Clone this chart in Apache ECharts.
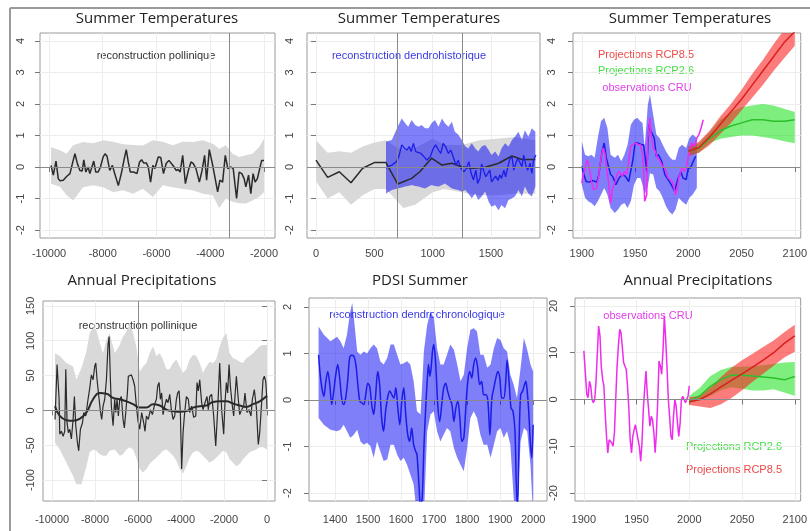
<!DOCTYPE html>
<html>
<head>
<meta charset="utf-8">
<script src="https://cdn.jsdelivr.net/npm/echarts@6/dist/echarts.min.js"></script>
<style>
  html, body { margin: 0; padding: 0; background: #fff; }
  #chart { width: 810px; height: 531px; }
</style>
</head>
<body>
<div id="chart"></div>
<script>
// ---- panel 1 : summer temperature, pollen reconstruction ----
const p1X = [-9925,-9840,-9740,-9655,-9590,-9470,-9345,-9220,-9100,-9035,-8950,-8850,-8765,-8705,-8630,-8545,-8480,-8420,-8335,-8260,-8170,-8085,-7985,-7915,-7840,-7740,-7640,-7555,-7420,-7310,-7185,-7125,-7050,-6975,-6850,-6725,-6630,-6555,-6480,-6380,-6305,-6220,-6135,-6060,-5935,-5840,-5740,-5640,-5540,-5445,-5345,-5270,-5195,-5120,-5025,-4925,-4815,-4715,-4630,-4530,-4405,-4305,-4210,-4135,-4035,-3935,-3850,-3725,-3640,-3540,-3440,-3345,-3230,-3145,-3020,-2925,-2825,-2740,-2675,-2575,-2490,-2405,-2330,-2245,-2160,-2085,-2000];
const p1Y = [0.05,-0.26,0.19,-0.37,-0.44,-0.42,-0.30,-0.21,0.21,0.42,0.13,-0.11,-0.13,0.23,-0.16,0,-0.21,-0.16,0.19,-0.16,-0.16,0,0.32,0.42,0.34,-0.11,0.05,-0.21,-0.59,-0.21,0.32,0.55,0.16,-0.16,-0.16,-0.21,0.16,0.23,0.13,0.13,0,-0.48,0.05,-0.05,0.32,0.30,-0.21,0.11,0.21,0.11,0,-0.11,-0.08,-0.16,0.37,-0.53,-0.11,0.16,0.11,-0.05,-0.48,-0.11,0.37,-0.42,0.55,0.16,-0.21,-0.79,-0.42,-0.48,0.37,-0.05,0,-0.05,-1.0,-0.16,-0.21,-0.37,-0.63,-0.26,-0.85,-0.21,-0.48,-0.37,-0.05,0.21,0.21];
const p1BandX = [-9925,-9590,-9345,-9100,-8730,-8355,-7985,-7615,-7245,-6875,-6505,-6135,-5765,-5395,-5025,-4650,-4280,-3910,-3665,-3420,-3170,-2925,-2675,-2430,-2185,-2000];
const p1BandHi = [0.63,0.53,0.42,0.69,0.79,0.75,0.85,0.80,0.72,0.70,0.68,0.85,0.80,0.69,0.80,0.79,0.85,0.74,0.58,0.69,0.42,0.32,0.37,0.42,0.63,0.9];
const p1BandLo = [-0.53,-0.63,-0.9,-1.06,-0.64,-0.58,-0.64,-0.8,-0.74,-0.85,-0.69,-0.95,-0.58,-0.64,-0.7,-0.74,-0.85,-0.9,-1.3,-1.0,-1.1,-1.15,-1.16,-1.06,-0.95,-0.8];
const p1VLines = [-3300];

// ---- panel 2 : summer temperature, pollen + dendro-historical ----
const p2PolX = [0,100,200,300,400,500,600,700,820,890,990,1080,1165,1250,1335,1450,1565,1680,1765,1880];
const p2PolY = [0.22,-0.33,-0.15,-0.5,-0.04,0.14,0.14,-0.54,-0.36,-0.15,0.28,0.06,0.12,0.01,-0.04,-0.01,0.12,0.35,0.24,0.24];
const p2PolBandX = [0,100,200,300,400,500,600,700,750,850,1000,1100,1250,1400,1550,1700,1880];
const p2PolBandHi = [0.85,0.45,0.5,0.45,0.65,0.78,0.85,0.6,0.55,0.6,0.9,0.7,0.7,0.85,0.9,0.95,0.85];
const p2PolBandLo = [-0.45,-1.0,-0.8,-1.2,-0.9,-0.7,-0.7,-1.1,-1.3,-1.2,-0.8,-0.7,-0.8,-0.9,-0.9,-0.85,-0.85];
const p2DenX = [600,620,650,690,710,735,760,780,800,815,835,855,880,900,925,950,980,1005,1025,1050,1070,1090,1110,1135,1155,1180,1200,1220,1240,1255,1270,1290,1310,1330,1350,1370,1385,1405,1420,1440,1455,1470,1490,1505,1525,1540,1560,1575,1590,1610,1625,1645,1660,1680,1695,1715,1730,1745,1765,1780,1800,1815,1835,1850,1865,1885];
const p2DenY = [-0.04,0.01,0.06,0.17,0.33,0.70,0.59,0.54,0.65,0.49,0.75,0.49,0.46,0.43,0.33,0.22,0.33,0.59,0.70,0.54,0.43,0.75,0.65,0.43,0.54,0.28,0.06,0.22,-0.04,0.01,-0.15,-0.04,0.17,-0.2,-0.41,-0.1,-0.52,-0.36,0.1,-0.15,-0.31,-0.33,-0.1,-0.47,-0.36,-0.29,-0.43,-0.25,-0.36,-0.1,-0.31,0.01,0.24,0.33,-0.1,0.14,0.28,0.22,0.01,0.38,0.03,-0.1,0.12,-0.2,0.22,0.38];
const p2DenBandX = [600,650,700,735,765,790,820,850,880,905,935,965,990,1020,1050,1080,1105,1135,1165,1190,1220,1250,1280,1305,1335,1365,1390,1420,1450,1480,1505,1535,1565,1590,1620,1650,1680,1705,1735,1765,1790,1820,1850,1880];
const p2DenBandHi = [0.80,0.86,1.28,1.54,1.39,1.28,1.49,1.33,1.28,1.33,1.23,1.23,1.39,1.49,1.28,1.54,1.39,1.28,1.44,1.12,1.02,0.86,0.65,0.59,0.75,0.59,0.49,0.65,0.70,0.54,0.38,0.49,0.33,0.59,0.75,0.65,0.86,0.96,1.12,0.86,1.17,0.96,1.23,1.12];
const p2DenBandLo = [-0.84,-0.73,-0.68,-0.65,-0.62,-0.6,-0.57,-0.6,-0.62,-0.65,-0.68,-0.62,-0.57,-0.6,-0.62,-0.57,-0.52,-0.6,-0.68,-0.71,-0.73,-0.78,-0.73,-0.84,-0.99,-0.84,-1.05,-0.94,-0.78,-1.1,-1.26,-1.21,-1.37,-1.21,-1.31,-1.05,-0.99,-0.94,-0.73,-0.94,-0.62,-0.84,-0.94,-0.62];
const p2VLines = [700, 1250];

// ---- panel 3 : summer temperature, observations + projections ----
const p3ObsX = [1900,1902,1904,1907,1910,1914,1916,1919,1921,1923,1927,1929,1932,1935,1938,1941,1944,1948,1950,1953,1956,1958,1959.5,1961,1963,1965,1968,1970,1972,1975,1978,1981,1984,1987,1990,1993,1995,1998,2000,2002,2004,2007];
const p3ObsY = [0.02,-0.24,-0.46,-0.48,-0.43,-0.48,-0.24,0.5,0.76,0.29,-0.24,-0.3,-0.56,-0.35,-0.24,-0.3,-0.46,0.23,0.76,0.76,0.71,0.71,0.29,-0.14,1.34,1.13,0.92,0.34,0.39,0.18,-0.24,-0.4,-0.56,-0.77,-0.4,-0.14,-0.35,-0.4,-0.03,-0.03,0.13,0.34];
const p3BandX = [1900,1903,1906,1909,1912,1915,1918,1921,1924,1927,1931,1934,1937,1940,1943,1946,1949,1952,1955,1957,1959,1962,1964,1967,1970,1973,1976,1979,1982,1985,1988,1991,1994,1998,2001,2004,2008];
const p3BandHi = [0.81,0.39,0.34,0.39,0.29,0.92,1.45,1.56,1.24,0.39,0.29,0.39,0.18,0.39,0.71,1.34,1.5,1.56,1.45,1.4,0.6,1.98,2.3,1.66,1.03,0.92,0.71,0.5,0.34,0.23,0.23,0.6,0.71,0.6,0.92,1.03,0.92];
const p3BandLo = [-0.56,-0.98,-1.09,-1.14,-1.25,-1.09,-0.88,-0.67,-0.88,-1.3,-1.46,-1.35,-1.2,-1.14,-1.3,-1.09,-0.56,-0.35,-0.35,-0.56,-0.88,-0.6,-0.2,-0.24,-0.67,-0.77,-0.98,-1.25,-1.41,-1.51,-1.35,-0.98,-1.09,-1.2,-0.98,-0.88,-0.67];
const p3CruX = [1900,1901,1903,1905,1907,1909,1911,1914,1916,1918,1920,1922,1923,1925,1927,1929,1931,1933,1935,1938,1940,1942,1944,1946,1948,1951,1953,1955,1957,1958,1959,1961,1962,1964,1965,1967,1969,1971,1973,1975,1978,1981,1985,1988,1990,1991,1994,1996,1998,2001,2003,2006,2008,2010,2012,2014];
const p3CruY = [-0.51,-0.3,-0.03,0.23,-0.03,-0.46,-0.72,-0.67,-0.24,0.29,0.6,0.39,-0.03,-0.46,-1.15,-0.67,-0.51,-0.24,-0.14,-0.3,-0.14,-0.24,0.18,0.66,0.71,0.76,0.71,0.71,0.39,-0.03,-1.09,-0.88,0.92,1.56,1.03,0.6,0.5,0.29,0.23,0.07,-0.03,-0.35,-0.46,-0.88,-0.67,-0.35,-0.03,-0.14,-0.03,0.5,0.76,0.66,0.92,1.03,1.24,1.5];
const projYears = [2000,2010,2020,2030,2040,2050,2060,2070,2080,2090,2100];
const p3Rcp85 = [0.5,0.62,0.95,1.35,1.75,2.15,2.6,3.05,3.5,3.95,4.3];
const p3Rcp85Hi = [0.65,0.8,1.15,1.6,2.0,2.45,2.95,3.4,3.9,4.35,4.8];
const p3Rcp85Lo = [0.35,0.45,0.7,1.05,1.4,1.8,2.2,2.6,3.05,3.45,3.85];
const p3Rcp26 = [0.5,0.6,0.9,1.15,1.3,1.4,1.5,1.5,1.45,1.45,1.5];
const p3Rcp26Hi = [0.6,0.75,1.1,1.5,1.75,1.9,1.95,2.0,1.95,1.85,1.75];
const p3Rcp26Lo = [0.4,0.45,0.75,0.9,0.95,1.0,1.0,0.95,0.9,0.82,0.75];

// ---- panel 4 : annual precipitation, pollen reconstruction ----
const p4X = [-9860,-9765,-9670,-9640,-9565,-9485,-9410,-9360,-9300,-9240,-9175,-9100,-9020,-8960,-8895,-8820,-8760,-8680,-8585,-8525,-8430,-8325,-8245,-8170,-8090,-8015,-7965,-7905,-7810,-7750,-7690,-7625,-7550,-7470,-7395,-7345,-7285,-7240,-7160,-7085,-7035,-6975,-6915,-6850,-6775,-6695,-6635,-6570,-6495,-6450,-6385,-6310,-6230,-6155,-6075,-6000,-5920,-5830,-5735,-5675,-5610,-5520,-5425,-5330,-5225,-5145,-5085,-5020,-4960,-4900,-4835,-4760,-4680,-4605,-4525,-4450,-4370,-4295,-4215,-4155,-4090,-4030,-3970,-3905,-3845,-3750,-3660,-3595,-3505,-3410,-3315,-3255,-3195,-3130,-3040,-2975,-2885,-2790,-2730,-2665,-2575,-2480,-2385,-2295,-2200,-2110,-2015,-1955,-1890,-1830,-1765,-1705,-1610,-1550,-1490,-1425,-1335,-1270,-1180,-1085,-1025,-930,-835,-745,-680,-590,-495,-405,-340,-250,-185,-125,-60,-15,0];
const p4Y = [-13,66,16,-34,-30,-37,-30,59,-18,-32,-27,-41,-13,20,-22,-46,-58,-27,-18,-3,-8,16,32,51,44,63,68,44,16,-1,-13,6,16,44,94,106,44,6,-22,16,-3,16,-8,16,20,-13,-25,-3,25,49,51,51,44,35,6,-15,-27,-3,-18,-30,-8,-13,1,-6,9,16,35,40,16,25,-6,6,16,11,23,1,-13,-8,16,25,28,-3,-84,-32,-8,20,16,-3,6,-10,-8,40,28,44,11,1,11,20,1,20,23,-8,-51,1,68,1,-34,11,40,25,66,35,6,-8,20,49,16,-6,1,6,25,-3,1,-8,16,30,4,-49,-32,11,44,49,42,20,2];
const p4SmoothX = [-9860,-9640,-9330,-9020,-8710,-8400,-8090,-7780,-7470,-7160,-6850,-6540,-6230,-5920,-5610,-5300,-4990,-4680,-4370,-4060,-3750,-3440,-3130,-2820,-2510,-2200,-1890,-1580,-1270,-960,-650,-340,0];
const p4SmoothY = [6,-8,-14,-15,-12,-3,16,25,24,18,16,13,9,4,4,9,7,1,-1,-2,-1,4,6,7,12,13,13,10,7,5,9,13,21];
const p4BandX = [-9860,-9640,-9330,-9020,-8870,-8630,-8400,-8250,-8090,-7940,-7780,-7630,-7470,-7320,-7080,-6850,-6700,-6540,-6390,-6230,-6080,-5920,-5770,-5610,-5460,-5300,-5150,-4990,-4840,-4680,-4530,-4370,-4220,-4060,-3910,-3750,-3600,-3440,-3290,-3130,-2980,-2820,-2670,-2510,-2360,-2200,-2050,-1890,-1740,-1580,-1430,-1270,-1120,-960,-810,-650,-500,-340,-190,0];
const p4BandHi = [82,78,68,63,44,61,85,111,118,116,97,82,101,111,82,94,106,113,125,111,92,56,63,68,82,92,78,82,73,59,59,68,73,63,54,59,73,80,78,68,54,63,70,68,73,92,104,111,82,75,73,70,68,75,78,82,87,92,94,94];
const p4BandLo = [-46,-56,-75,-94,-106,-106,-80,-60,-56,-58,-63,-65,-65,-58,-56,-65,-63,-56,-53,-56,-68,-84,-89,-84,-77,-72,-68,-63,-58,-56,-60,-65,-72,-84,-91,-80,-68,-60,-58,-60,-65,-70,-75,-72,-68,-63,-58,-60,-70,-75,-80,-77,-70,-65,-60,-58,-56,-53,-53,-56];
const p4VLines = [-6000];

// ---- panel 5 : summer PDSI, dendrochronological reconstruction ----
const p5X = [1350,1354,1360,1366,1372,1378,1384,1390,1396,1402,1408,1414,1420,1426,1432,1438,1444,1450,1457,1463,1469,1475,1481,1487,1493,1499,1505,1511,1517,1523,1529,1535,1541,1547,1553,1560,1566,1572,1578,1584,1590,1596,1602,1608,1614,1620,1626,1632,1638,1644,1648,1654,1659,1664,1669,1675,1679,1683,1687,1691,1695,1699,1705,1711,1717,1723,1729,1735,1741,1747,1754,1760,1766,1772,1778,1784,1790,1796,1802,1808,1814,1820,1826,1832,1838,1844,1850,1857,1863,1869,1875,1881,1887,1893,1899,1905,1911,1917,1921,1927,1933,1939,1945,1949,1953,1957,1962,1968,1974,1978,1982,1986,1992,1996,2000];
const p5Y = [0.97,0.61,0.26,0.08,0.4,0.61,0.33,-0.1,0.19,0.54,0.76,0.47,0.04,-0.1,0.04,0.4,0.9,0.96,0.94,0.76,0.33,-0.03,-0.06,-0.1,0.11,0.36,0.29,-0.1,-0.31,0.11,0.61,0.33,-0.39,-0.67,-0.24,0.08,0.19,0.11,0.04,0.26,-0.17,-0.53,-0.03,0.26,-0.31,-0.74,-0.89,-0.6,-0.96,-1.1,-1.17,-1.81,-2.3,-2.1,-1.03,-0.1,0.4,0.76,0.51,0.69,1.04,1.19,0.76,-0.1,-0.46,-0.1,0.26,0.36,0.19,0.04,-0.1,-0.46,-0.17,-0.03,-0.39,-0.89,-0.81,-0.17,0.4,0.61,0.47,0.76,0.9,0.69,0.33,0.4,0.11,0.11,-0.03,-0.75,0.04,0.26,0.47,0.61,0.47,0.04,0.04,0.4,0.86,0.4,-0.17,-0.24,-0.67,-1.81,-2.3,-1.03,0.11,0.19,0.33,0.4,0.19,-0.17,-0.96,-1.24,-0.53];
const p5BandX = [1350,1366,1386,1406,1416,1426,1436,1446,1452,1457,1467,1477,1487,1497,1507,1517,1527,1537,1547,1558,1568,1578,1588,1598,1608,1618,1628,1638,1648,1659,1669,1679,1689,1699,1709,1719,1729,1739,1749,1760,1770,1780,1790,1800,1810,1820,1830,1840,1850,1861,1871,1881,1891,1901,1911,1921,1931,1941,1951,1962,1972,1982,1992,2000];
const p5BandHi = [1.58,1.4,1.26,1.36,1.26,1.11,1.4,1.9,2.08,1.76,1.04,0.97,1.04,1.0,1.11,1.19,1.11,0.83,0.76,0.9,1.19,1.19,0.97,0.76,0.79,0.83,0.76,0.4,-0.24,-0.31,1.04,1.61,1.9,1.76,1.11,0.76,0.76,0.97,1.19,1.08,0.76,0.4,0.54,1.11,1.51,1.54,1.47,0.97,0.97,0.69,0.76,1.11,1.33,1.29,1.11,1.04,0.54,0.33,0.04,0.69,1.33,1.08,0.76,0.61];
const p5BandLo = [-0.39,-0.53,-0.64,-0.67,-0.64,-0.53,-0.67,-0.81,-0.78,-0.74,-0.64,-0.89,-0.96,-0.92,-0.99,-1.24,-0.89,-1.1,-1.31,-1.28,-0.96,-0.96,-1.17,-1.31,-1.24,-1.39,-1.6,-1.81,-2.5,-2.5,-2.5,-0.67,-0.31,-0.24,-0.67,-0.89,-0.74,-0.6,-0.67,-1.03,-1.24,-1.39,-1.53,-1.03,-0.39,-0.24,-0.39,-0.74,-0.96,-0.96,-1.24,-0.96,-0.67,-0.6,-0.81,-0.67,-0.96,-2.1,-2.5,-0.89,-0.6,-0.67,-1.39,-2.5];

// ---- panel 6 : annual precipitation, observations + projections ----
const p6CruX = [1900,1901.6,1902.8,1904,1905.3,1906.5,1907.8,1909,1910.3,1911.5,1912.8,1914,1915.3,1916.5,1917.8,1919,1920.2,1921.5,1922.7,1924,1925.2,1926.5,1927.7,1929,1930.2,1931.5,1932.7,1934,1935.2,1936.4,1937.7,1939,1940.2,1941.4,1942.7,1943.9,1945.2,1946.4,1947.7,1948.9,1950.2,1951.4,1952.6,1953.9,1955.1,1956.4,1957.6,1958.9,1960.1,1961.4,1962.6,1963.9,1965.1,1966.4,1967.6,1968.8,1970.1,1971.3,1972.6,1973.8,1975.1,1976.3,1977.6,1978.8,1980.1,1981.3,1982.6,1983.8,1985,1986.3,1987.5,1988.8,1990,1991.3,1992.5,1993.8,1995,1996.3,1997.5,1998.8,2000];
const p6CruY = [10.4,5.0,1.1,0.4,3.9,2.9,0,-0.7,0,3.6,10,15.7,13.6,7.1,4.3,2.9,-2.9,-7.9,-11.4,-8.6,-8.6,-9.3,-10,-7.1,0,7.1,11.4,15,14.3,11.4,7.9,7.1,6.4,2.9,-2.1,-8.6,-11.4,-7.9,-6.4,-5.4,-5.4,-8.6,-10,-13.2,-9.3,-2.1,2.1,6.1,1.4,-2.1,-5.7,-3.6,-4.3,-7.1,-11.4,-7.1,0,8.2,7.1,5.4,10.7,17.9,12.9,7.1,0,-3.6,-7.9,-8.6,-3.6,0,-1.4,-5,-7.9,-5,0,0.7,0,-0.7,0,0.7,2.9];
const p6Rcp85 = [-0.5,0,1.2,2.7,4.1,5.5,6.9,8.4,10.0,12.0,13.6];
const p6Rcp85Hi = [0.5,0.8,2.5,4.8,6.8,8.4,9.8,11.2,12.6,14.4,16.0];
const p6Rcp85Lo = [-1.2,-1.5,-1.8,-1.0,0.3,2.0,3.8,5.5,7.2,9.0,10.2];
const p6Rcp26 = [-0.3,0.8,2.8,4.3,5.2,5.2,5.0,4.8,4.6,4.2,4.9];
const p6Rcp26Hi = [0.8,2.5,5.0,6.3,7.0,7.0,7.1,7.3,7.6,7.9,8.0];
const p6Rcp26Lo = [-0.8,-0.2,0.8,2.0,2.6,2.3,1.9,1.9,2.2,1.5,0.8];

// ---- tick labels ----
const xTicks1 = [-10000,-8000,-6000,-4000,-2000];
const xTicks2 = [0,500,1000,1500];
const xTicks3 = [1900,1950,2000,2050,2100];
const xTicks4 = [-10000,-8000,-6000,-4000,-2000,0];
const xTicks5 = [1400,1500,1600,1700,1800,1900,2000];
const yTicksTemp = [-2,-1,0,1,2,3,4];
const yTicksPrecip = [-100,-50,0,50,100,150];
const yTicksPdsi = [-2,-1,0,1,2];
const yTicksObs = [-20,-10,0,10,20];

const GRAY = '#d9d9d9';
const BLUE_BAND = 'rgba(10,10,245,0.52)';
const RED_BAND = 'rgba(250,35,35,0.6)';
const GREEN_BAND = 'rgba(20,225,20,0.55)';
const BLACK = '#2a2a2a';
const BLUE = '#1c1ce8';
const PINK = '#ee2cee';
const RED = '#d82020';
const GREEN = '#2cbf2c';

const chart = echarts.init(document.getElementById('chart'));

function band(i, xs, lo, hi, fill) {
  return {
    type: 'custom', xAxisIndex: i, yAxisIndex: i, silent: true, clip: true,
    data: xs.map((x, k) => [x, lo[k], hi[k]]),
    encode: { x: 0, y: [1, 2] },
    renderItem: (params, api) => {
      if (params.dataIndex !== 0) return null;
      const top = xs.map((x, k) => api.coord([x, hi[k]]));
      const bottom = xs.map((x, k) => api.coord([x, lo[k]])).reverse();
      return { type: 'polygon', shape: { points: top.concat(bottom) }, style: { fill: fill } };
    }
  };
}

function line(i, xs, ys, color, width, extra) {
  return Object.assign({
    type: 'line', xAxisIndex: i, yAxisIndex: i, silent: true,
    showSymbol: false, symbol: 'none', clip: true,
    data: xs.map((x, k) => [x, ys[k]]),
    lineStyle: { color: color, width: width },
    itemStyle: { color: color }
  }, extra || {});
}

function refLines(vs) {
  return {
    markLine: {
      silent: true, symbol: ['none', 'none'], label: { show: false }, animation: false,
      lineStyle: { color: '#8a8a8a', width: 1, type: 'solid' },
      data: [{ yAxis: 0 }].concat(vs.map(v => ({ xAxis: v })))
    }
  };
}

const fmt = v => String(v);

function xAx(i, min, max, ticks, margin) {
  return {
    type: 'value', gridIndex: i, min: min, max: max,
    axisLine: { show: false },
    axisTick: { show: true, length: 5, customValues: ticks, lineStyle: { color: '#777' } },
    axisLabel: { customValues: ticks, margin: margin, color: '#444', fontSize: 11,
      fontFamily: 'Liberation Sans', formatter: fmt },
    splitLine: { show: true, lineStyle: { color: '#ededed', width: 1 } }
  };
}

function yAx(i, min, max, ticks, margin) {
  return {
    type: 'value', gridIndex: i, min: min, max: max,
    axisLine: { show: false },
    axisTick: { show: true, length: 5, customValues: ticks, lineStyle: { color: '#777' } },
    axisLabel: { customValues: ticks, margin: margin, rotate: 90, color: '#444', fontSize: 11,
      fontFamily: 'Liberation Sans', formatter: fmt },
    splitLine: { show: true, lineStyle: { color: '#ededed', width: 1 } }
  };
}

const gridBox = { show: true, borderColor: '#9a9a9a', borderWidth: 1, containLabel: false };

function label(x, y, text, color, size, family) {
  return {
    type: 'text', x: x, y: y, silent: true,
    style: {
      text: text, fill: color, font: (size || 11) + 'px ' + (family || '"Liberation Sans"'),
      textAlign: 'center', textVerticalAlign: 'middle', align: 'center', verticalAlign: 'middle'
    }
  };
}
const TITLE_FONT = '"Open Sans"';

const option = {
  animation: false,
  backgroundColor: '#fff',
  grid: [
    Object.assign({ left: 40, top: 33, width: 235, height: 205 }, gridBox),
    Object.assign({ left: 307, top: 33, width: 233, height: 205 }, gridBox),
    Object.assign({ left: 573, top: 33, width: 231, height: 205 }, gridBox),
    Object.assign({ left: 43, top: 301, width: 232, height: 200 }, gridBox),
    Object.assign({ left: 309, top: 298, width: 238, height: 203 }, gridBox),
    Object.assign({ left: 575, top: 298, width: 229, height: 203 }, gridBox)
  ],
  xAxis: [
    xAx(0, -10335, -1590, xTicks1, 10),
    xAx(1, -77, 1920, xTicks2, 10),
    xAx(2, 1891.7, 2105.6, xTicks3, 10),
    xAx(3, -10420, 372, xTicks4, 13),
    xAx(4, 1321, 2042, xTicks5, 13),
    xAx(5, 1891.6, 2105.6, xTicks3, 13)
  ],
  yAxis: [
    yAx(0, -2.254, 4.254, yTicksTemp, 14),
    yAx(1, -2.254, 4.254, yTicksTemp, 12),
    yAx(2, -2.254, 4.254, yTicksTemp, 16),
    yAx(3, -130, 157, yTicksPrecip, 7),
    yAx(4, -2.17, 2.19, yTicksPdsi, 16),
    yAx(5, -21.7, 21.7, yTicksObs, 16)
  ],
  series: [
    // panel 1
    band(0, p1BandX, p1BandLo, p1BandHi, GRAY),
    line(0, p1X, p1Y, BLACK, 1.5, refLines(p1VLines)),
    // panel 2
    band(1, p2PolBandX, p2PolBandLo, p2PolBandHi, GRAY),
    band(1, p2DenBandX, p2DenBandLo, p2DenBandHi, BLUE_BAND),
    line(1, p2PolX, p2PolY, BLACK, 1.5),
    line(1, p2DenX, p2DenY, BLUE, 1.3, refLines(p2VLines)),
    // panel 3
    band(2, p3BandX, p3BandLo, p3BandHi, BLUE_BAND),
    band(2, projYears, p3Rcp26Lo, p3Rcp26Hi, GREEN_BAND),
    band(2, projYears, p3Rcp85Lo, p3Rcp85Hi, RED_BAND),
    line(2, p3ObsX, p3ObsY, BLUE, 1.5),
    line(2, p3CruX, p3CruY, PINK, 1.5),
    line(2, projYears, p3Rcp26, GREEN, 1.5),
    line(2, projYears, p3Rcp85, RED, 1.5, refLines([])),
    // panel 4
    band(3, p4BandX, p4BandLo, p4BandHi, GRAY),
    line(3, p4X, p4Y, BLACK, 1.2),
    line(3, p4SmoothX, p4SmoothY, BLACK, 2, Object.assign({ smooth: true }, refLines(p4VLines))),
    // panel 5
    band(4, p5BandX, p5BandLo, p5BandHi, BLUE_BAND),
    line(4, p5X, p5Y, BLUE, 1.5, Object.assign({ smooth: 0.3 }, refLines([]))),
    // panel 6
    band(5, projYears, p6Rcp26Lo, p6Rcp26Hi, GREEN_BAND),
    band(5, projYears, p6Rcp85Lo, p6Rcp85Hi, RED_BAND),
    line(5, p6CruX, p6CruY, PINK, 1.5),
    line(5, projYears, p6Rcp26, GREEN, 1.5),
    line(5, projYears, p6Rcp85, RED, 1.5, refLines([]))
  ],
  graphic: [
    { type: 'line', silent: true, shape: { x1: 10, y1: 8, x2: 810, y2: 8 }, style: { stroke: '#9a9a9a', lineWidth: 2 } },
    { type: 'line', silent: true, shape: { x1: 10, y1: 8, x2: 10, y2: 531 }, style: { stroke: '#9a9a9a', lineWidth: 2 } },
    label(157, 19, 'Summer Temperatures', '#222', 15, TITLE_FONT),
    label(419, 19, 'Summer Temperatures', '#222', 15, TITLE_FONT),
    label(690, 19, 'Summer Temperatures', '#222', 15, TITLE_FONT),
    label(142, 281, 'Annual Precipitations', '#222', 15, TITLE_FONT),
    label(420, 281, 'PDSI Summer', '#222', 15, TITLE_FONT),
    label(698, 281, 'Annual Precipitations', '#222', 15, TITLE_FONT),
    label(156, 56, 'reconstruction pollinique', '#333'),
    label(409, 56, 'reconstruction dendrohistorique', '#3a3ae6'),
    label(646, 55, 'Projections RCP8.5', '#f04848'),
    label(646, 71, 'Projections RCP2.6', '#44e044'),
    label(647, 88, 'observations CRU', '#e040e8'),
    label(138, 326, 'reconstruction pollinique', '#333'),
    label(417, 315, 'reconstruction dendrochronologique', '#3a3ae6'),
    label(648, 316, 'observations CRU', '#e040e8'),
    label(734, 447, 'Projections RCP2.6', '#44e044'),
    label(734, 470, 'Projections RCP8.5', '#f04848')
  ]
};

chart.setOption(option);
window.addEventListener('resize', () => chart.resize());
</script>
</body>
</html>
